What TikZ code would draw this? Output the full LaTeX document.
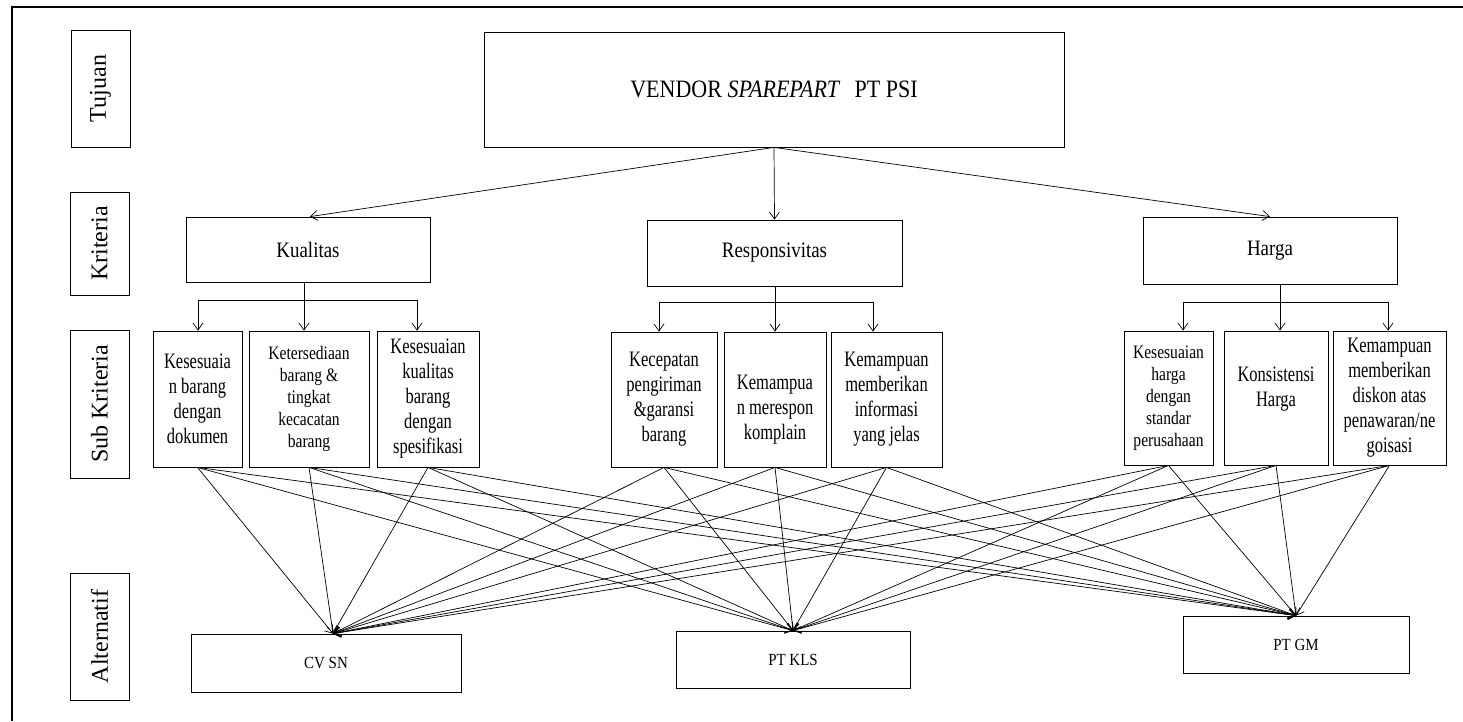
\documentclass[tikz,border=0pt]{standalone}
\usepackage{fontspec}
\setmainfont{Liberation Serif}
\newfontfamily\condA[FakeStretch=0.75]{Liberation Serif}
\newfontfamily\condB[FakeStretch=0.82]{Liberation Serif}
\newfontfamily\condC[FakeStretch=0.86]{Liberation Serif}
\newfontfamily\condD[FakeStretch=0.88]{Liberation Serif}
\usetikzlibrary{arrows.meta}
\tikzset{
  box/.style={draw, line width=0.8pt, rectangle, inner sep=0pt, align=center},
  lbl/.style={box, rotate=90, font=\fontsize{24}{26}\selectfont},
  subA/.style={box, font=\condA\fontsize{22}{25}\selectfont},
  subB/.style={box, font=\condB\fontsize{19}{22}\selectfont},
  crit/.style={box, font=\condC\fontsize{22}{26}\selectfont},
  altbox/.style={box, font=\condD\fontsize{17}{19}\selectfont},
  conn/.style={line width=0.7pt},
  arr/.style={-{Straight Barb[length=7pt,width=10pt]}, line width=0.7pt}
}
\begin{document}
\begin{tikzpicture}[x=1pt,y=-1pt]
\useasboundingbox (0,0) rectangle (1463,721);
\draw[line width=1.2pt] (12,721) -- (12,7) -- (1463,7);

% level labels
\node[lbl, minimum width=117pt, minimum height=59pt] (tuj) at (100.5,88.5) {Tujuan};
\node[lbl, minimum width=103pt, minimum height=59pt] (kri) at (99.5,243.5) {Kriteria};
\node[lbl, minimum width=148pt, minimum height=59pt] (sbk) at (99.5,404) {Sub Kriteria};
\node[lbl, minimum width=127pt, minimum height=59pt] (alt) at (99.5,636.5) {Alternatif};

% goal
\node[box, minimum width=580pt, minimum height=115pt, font=\condD\fontsize{25}{28}\selectfont] (top) at (774,89.5) {VENDOR \textit{SPAREPART}\hspace{0.35em} PT PSI};

% criteria
\node[crit, minimum width=244pt, minimum height=65pt] (kual) at (308,249.5) {Kualitas};
\node[crit, minimum width=255pt, minimum height=66pt] (resp) at (774.5,253) {Responsivitas};
\node[crit, minimum width=254pt, minimum height=67pt] (harga) at (1270,250.5) {Harga};

% sub criteria
\node[subA, minimum width=89pt, minimum height=136pt] (s1) at (197.5,399) {Kesesuaia\\n barang\\dengan\\dokumen};
\node[subB, minimum width=120pt, minimum height=136pt] (s2) at (309,399) {Ketersediaan\\barang \&\\tingkat\\kecacatan\\barang};
\node[subA, minimum width=102pt, minimum height=136pt] (s3) at (428,399) {Kesesuaian\\kualitas\\barang\\dengan\\spesifikasi};
\node[subA, minimum width=106pt, minimum height=135pt] (s4) at (664,399.5) {Kecepatan\\pengiriman\\\&garansi\\barang};
\node[subA, minimum width=102pt, minimum height=135pt] (s5) at (775,399.5) {\mbox{}\\[9pt]Kemampua\\n merespon\\komplain};
\node[subA, minimum width=111pt, minimum height=135pt] (s6) at (886.5,399.5) {Kemampuan\\memberikan\\informasi\\yang jelas};
\node[subB, minimum width=89pt, minimum height=134pt] (s7) at (1168.5,398) {Kesesuaian\\harga\\dengan\\standar\\perusahaan};
\node[subA, minimum width=104pt, minimum height=134pt] (s8) at (1276,398) {Konsistensi\\Harga\\[-3pt]\mbox{}};
\node[subA, minimum width=113pt, minimum height=134pt] (s9) at (1389.5,398) {Kemampuan\\memberikan\\diskon atas\\penawaran/ne\\goisasi};

% alternatives
\node[altbox, minimum width=270pt, minimum height=58pt] (cv) at (326,663) {CV SN};
\node[altbox, minimum width=234pt, minimum height=57pt] (kls) at (793,659.5) {PT KLS};
\node[altbox, minimum width=226pt, minimum height=57pt] (gm) at (1296,644.5) {PT GM};

% goal -> criteria
\draw[arr] (top.south) -- ([xshift=2pt]kual.north);
\draw[arr] (top.south) -- (resp.north);
\draw[arr] (top.south) -- (harga.north);

% criteria -> sub criteria
\coordinate (k1) at (198,300); \coordinate (k2) at (304,300); \coordinate (k3) at (417,300);
\draw[conn] (kual.south -| k2) -- (k2);
\draw[conn] (k1) -- (k3);
\draw[arr] (k1) -- (k1 |- s1.north);
\draw[arr] (k2) -- (k2 |- s2.north);
\draw[arr] (k3) -- (k3 |- s3.north);

\coordinate (r1) at (659,302); \coordinate (r2) at (775,302); \coordinate (r3) at (873,302);
\draw[conn] (resp.south -| r2) -- (r2);
\draw[conn] (r1) -- (r3);
\draw[arr] (r1) -- (r1 |- s4.north);
\draw[arr] (r2) -- (r2 |- s5.north);
\draw[arr] (r3) -- (r3 |- s6.north);

\coordinate (h1) at (1183,302); \coordinate (h2) at (1280,302); \coordinate (h3) at (1388,302);
\draw[conn] (harga.south -| h2) -- (h2);
\draw[conn] (h1) -- (h3);
\draw[arr] (h1) -- (h1 |- s7.north);
\draw[arr] (h2) -- (h2 |- s8.north);
\draw[arr] (h3) -- (h3 |- s9.north);

% sub criteria -> alternatives
\coordinate (cvT) at ([xshift=7pt]cv.north);
\foreach \s in {s1,s2,s3,s4,s5,s6,s7,s8,s9}{
  \foreach \t in {cvT,kls.north,gm.north}{
    \draw[arr] (\s.south) -- (\t);
  }
}
\end{tikzpicture}
\end{document}
